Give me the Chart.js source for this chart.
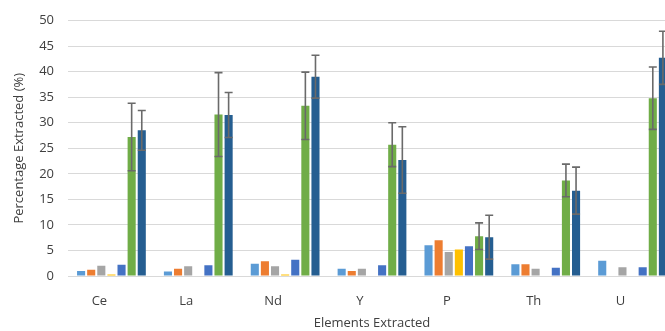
<!DOCTYPE html>
<html>
<head>
<meta charset="utf-8">
<script src="https://cdn.jsdelivr.net/npm/chart.js@4"></script>
<style>
  html, body { margin: 0; padding: 0; background: #fff; overflow: hidden; }
  #wrap { width: 692px; height: 331px; }
</style>
</head>
<body>
<div id="wrap"><canvas id="mycanvas"></canvas></div>
<script>
var elements = ['Ce', 'La', 'Nd', 'Y', 'P', 'Th', 'U'];
var yTicks = [0, 5, 10, 15, 20, 25, 30, 35, 40, 45, 50];

var series1 = [1.0, 0.9, 2.4, 1.4, 6.0, 2.3, 3.0];
var series2 = [1.2, 1.4, 2.9, 1.0, 7.0, 2.3, 0];
var series3 = [2.0, 1.9, 1.9, 1.4, 4.7, 1.4, 1.7];
var series4 = [0.3, 0, 0.3, 0, 5.2, 0, 0];
var series5 = [2.2, 2.1, 3.2, 2.1, 5.8, 1.6, 1.7];
var series6 = [27.2, 31.6, 33.3, 25.7, 7.8, 18.7, 34.8];
var series7 = [28.5, 31.5, 39.0, 22.7, 7.6, 16.7, 42.7];
var error6 = [6.6, 8.2, 6.6, 4.3, 2.6, 3.2, 6.1];
var error7 = [3.9, 4.4, 4.2, 6.5, 4.3, 4.6, 5.2];

var colors = ['#5B9BD5', '#ED7D31', '#A5A5A5', '#FFC000', '#4472C4', '#70AD47', '#255E91'];
var allSeries = [series1, series2, series3, series4, series5, series6, series7];
var errors = [null, null, null, null, null, error6, error7];

var datasets = [];
for (var i in allSeries) {
  datasets.push({
    label: 'Series ' + (Number(i) + 1),
    data: allSeries[i],
    backgroundColor: colors[i],
    errors: errors[i],
    barPercentage: 0.8,
    categoryPercentage: 0.815
  });
}

// error bars drawn from the bar elements and the y scale
var errorBars = {
  id: 'errorBars',
  afterDatasetsDraw: function(chart) {
    var ctx = chart.ctx;
    var y = chart.scales.y;
    ctx.save();
    ctx.strokeStyle = '#6a6a6a';
    ctx.lineWidth = 1.6;
    chart.data.datasets.forEach(function(ds, di) {
      if (!ds.errors) return;
      var meta = chart.getDatasetMeta(di);
      meta.data.forEach(function(bar, k) {
        var v = ds.data[k], e = ds.errors[k];
        var top = y.getPixelForValue(v + e);
        var bot = y.getPixelForValue(v - e);
        ctx.beginPath();
        ctx.moveTo(bar.x, top); ctx.lineTo(bar.x, bot);
        ctx.moveTo(bar.x - 4, top); ctx.lineTo(bar.x + 4, top);
        ctx.moveTo(bar.x - 4, bot); ctx.lineTo(bar.x + 4, bot);
        ctx.stroke();
      });
    });
    ctx.restore();
  }
};

var ctx = document.getElementById('mycanvas');
var barGraph = new Chart(ctx, {
  type: 'bar',
  data: { labels: elements, datasets: datasets },
  plugins: [errorBars],
  options: {
    responsive: true,
    maintainAspectRatio: false,
    animation: false,
    layout: { padding: { top: 19, right: 16, left: 0, bottom: 0 } },
    plugins: {
      legend: { display: false },
      tooltip: { enabled: false }
    },
    scales: {
      x: {
        grid: { display: false },
        border: { display: false },
        ticks: { color: '#404040', font: { family: 'Open Sans', size: 13 }, padding: 9, labelOffset: -12 },
        title: { display: true, text: 'Elements Extracted', color: '#404040',
                 font: { family: 'Open Sans', size: 13 }, padding: { top: 2, bottom: 0 } },
        afterFit: function(scale) { scale.height = 55; }
      },
      y: {
        min: 0, max: 50,
        afterBuildTicks: function(scale) {
          scale.ticks = yTicks.map(function(v) { return { value: v }; });
        },
        grid: { color: '#d9d9d9', lineWidth: 1, drawTicks: false },
        border: { display: false },
        ticks: { color: '#404040', font: { family: 'Open Sans', size: 13, lineHeight: 1 }, padding: 14 },
        title: { display: true, text: 'Percentage Extracted (%)', color: '#404040',
                 font: { family: 'Open Sans', size: 13 }, padding: { top: 11, bottom: 2 } },
        afterFit: function(scale) { scale.width = 68; }
      }
    }
  }
});
</script>
</body>
</html>
